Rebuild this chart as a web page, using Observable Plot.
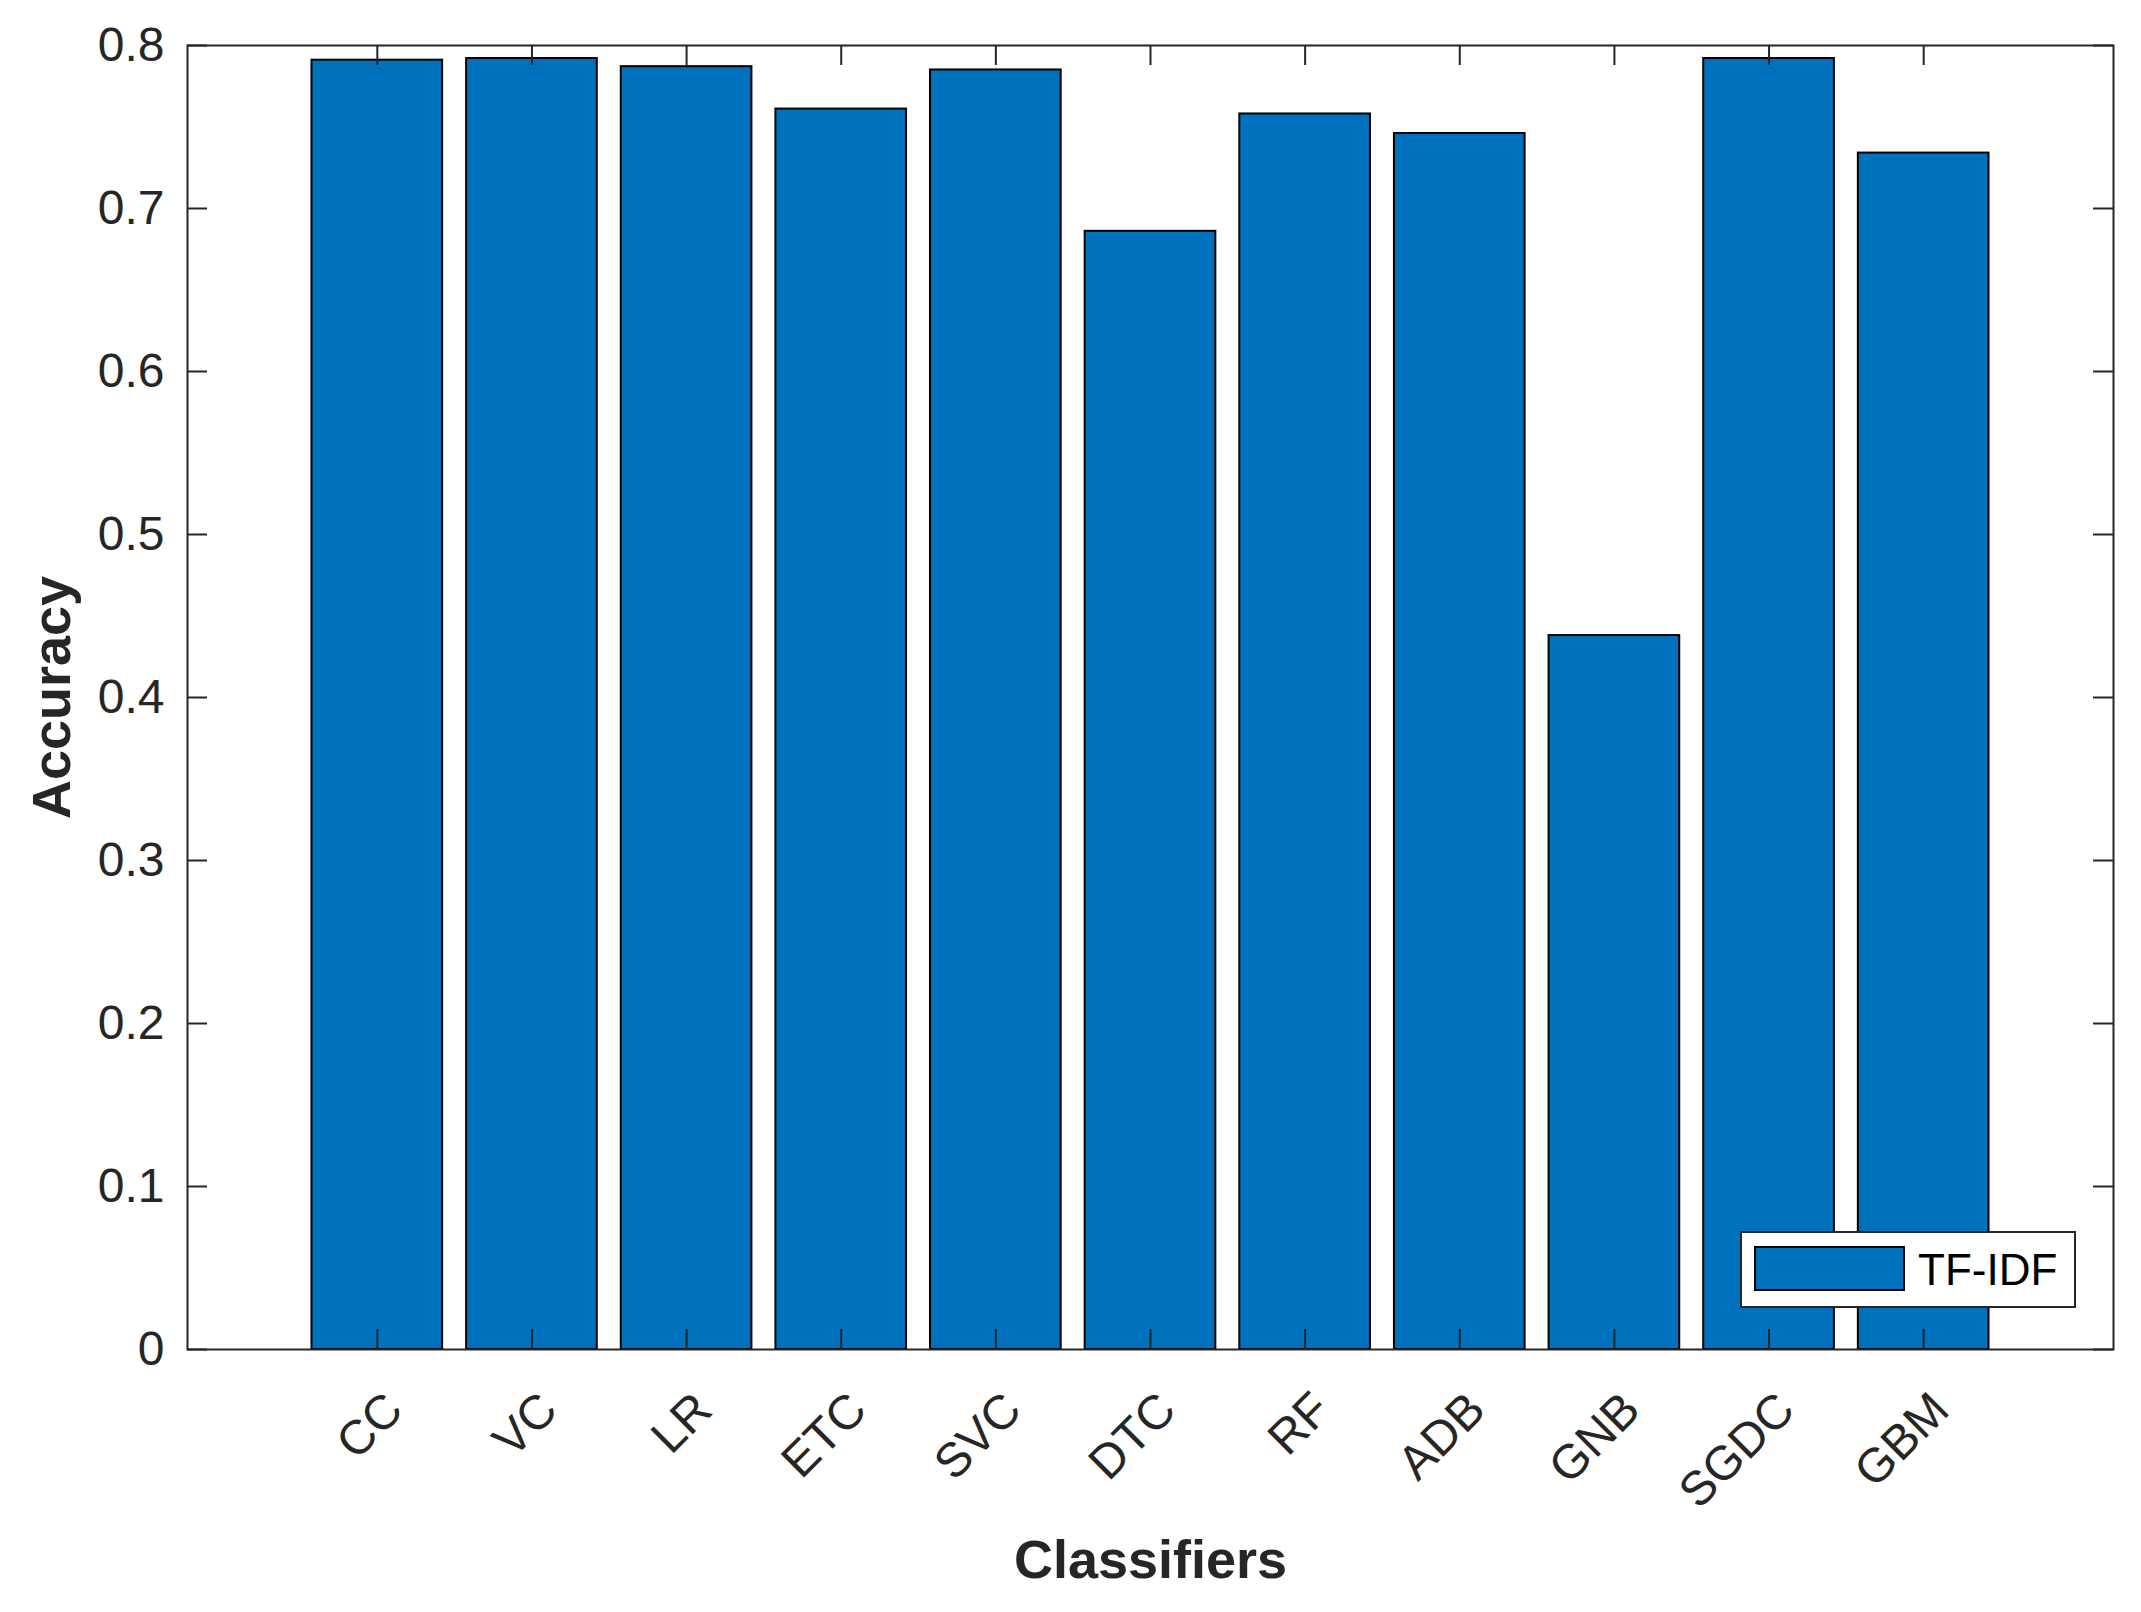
<!DOCTYPE html>
<html>
<head>
<meta charset="utf-8">
<script src="https://cdn.jsdelivr.net/npm/d3@7"></script>
<script src="https://cdn.jsdelivr.net/npm/@observablehq/plot@0.6"></script>
<style>
  html, body { margin: 0; padding: 0; background: #fff; }
  #wrap { position: relative; width: 2141px; height: 1612px; font-family: "Liberation Sans", Arial, Helvetica, sans-serif; }
  #wrap svg { display: block; }
  #legend { position: absolute; left: 1740px; top: 1231px; width: 332px; height: 73px; border: 2px solid #262626; background: #fff; }
  #legend .sw { position: absolute; left: 12px; top: 13px; width: 147px; height: 41px; background: #0072BD; border: 2px solid #000; }
  #legend .lb { position: absolute; left: 176px; top: 12px; font-size: 44px; line-height: 50px; color: #000; }
</style>
</head>
<body>
<div id="wrap"></div>
<script>
const classifiers = ["CC", "VC", "LR", "ETC", "SVC", "DTC", "RF", "ADB", "GNB", "SGDC", "GBM"];
const accuracy = [0.791, 0.792, 0.787, 0.761, 0.785, 0.686, 0.758, 0.746, 0.438, 0.792, 0.734];
const yTickValues = [0, 0.1, 0.2, 0.3, 0.4, 0.5, 0.6, 0.7, 0.8];
const yTickLabels = ["0", "0.1", "0.2", "0.3", "0.4", "0.5", "0.6", "0.7", "0.8"];
const seriesName = "TF-IDF";
const xTitle = "Classifiers";
const yTitle = "Accuracy";

const data = classifiers.map((c, i) => ({classifier: c, accuracy: accuracy[i]}));

const W = 2141, H = 1612;
const mL = 187, mR = 28, mT = 45, mB = 263;
const plotW = W - mL - mR, plotH = H - mT - mB;
const tickLen = 20;
const axisColor = "#262626";

const chart = Plot.plot({
  width: W,
  height: H,
  marginLeft: mL,
  marginRight: mR,
  marginTop: mT,
  marginBottom: mB,
  style: {fontFamily: '"Liberation Sans", Arial, Helvetica, sans-serif', fontSize: "48px", color: axisColor, background: "#fff"},
  x: {domain: classifiers, paddingInner: 0.155, paddingOuter: 0.805, round: false, label: null},
  y: {domain: [0, 0.8], label: null},
  marks: [
    Plot.barY(data, {x: "classifier", y: "accuracy", fill: "#0072BD", stroke: "#000", strokeWidth: 2}),
    Plot.tickX(classifiers, {x: d => d, insetTop: plotH - tickLen, stroke: axisColor, strokeWidth: 2}),
    Plot.tickX(classifiers, {x: d => d, insetBottom: plotH - tickLen, stroke: axisColor, strokeWidth: 2}),
    Plot.tickY(yTickValues, {y: d => d, insetRight: plotW - tickLen, stroke: axisColor, strokeWidth: 2}),
    Plot.tickY(yTickValues, {y: d => d, insetLeft: plotW - tickLen, stroke: axisColor, strokeWidth: 2}),
    Plot.frame({stroke: axisColor, strokeWidth: 2}),
    Plot.axisY({ticks: yTickValues, tickFormat: d => yTickLabels[yTickValues.indexOf(d)], tickSize: 0, tickPadding: 23, fontSize: 48, label: null}),
    Plot.axisX({tickSize: 0, tickRotate: -45, tickPadding: 52, dx: 17, fontSize: 48, label: null}),
    Plot.text([yTitle], {text: d => d, frameAnchor: "left", textAnchor: "middle", lineAnchor: "middle", rotate: -90, dx: -135, fontSize: 54, fontWeight: "bold", fill: axisColor}),
    Plot.text([xTitle], {text: d => d, frameAnchor: "bottom", textAnchor: "middle", lineAnchor: "middle", dy: 211, fontSize: 54, fontWeight: "bold", fill: axisColor})
  ]
});

const wrap = document.getElementById("wrap");
wrap.appendChild(chart);

const legend = document.createElement("div");
legend.id = "legend";
const sw = document.createElement("div");
sw.className = "sw";
const lb = document.createElement("div");
lb.className = "lb";
lb.textContent = seriesName;
legend.appendChild(sw);
legend.appendChild(lb);
wrap.appendChild(legend);
</script>
</body>
</html>
